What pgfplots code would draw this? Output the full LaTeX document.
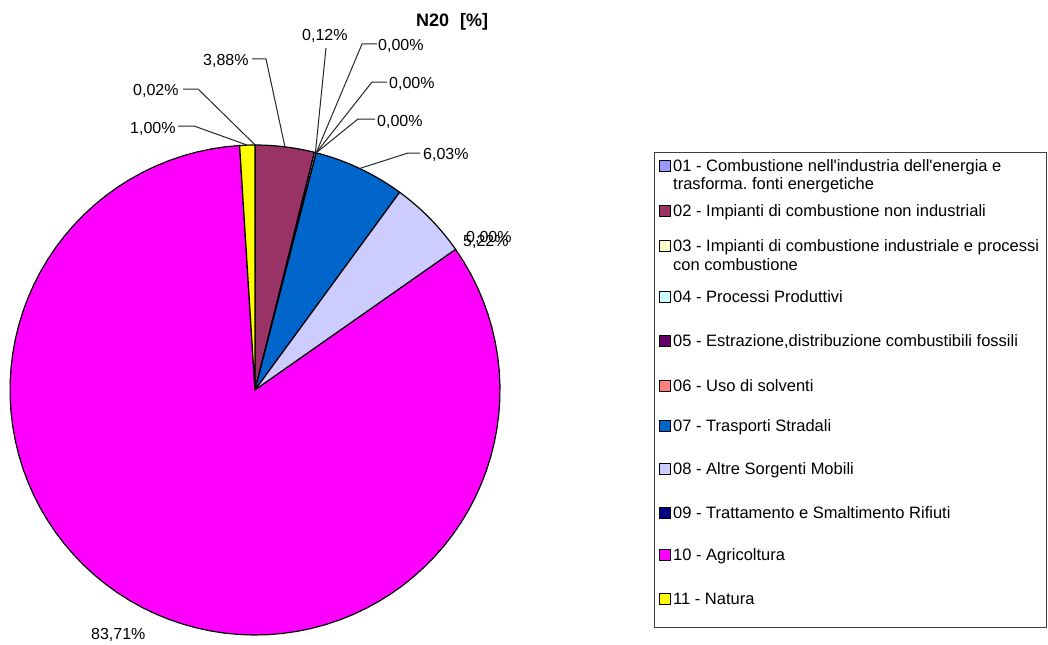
\documentclass[border=0pt]{standalone}
\usepackage{fontspec}
\setmainfont{Liberation Sans}
\usepackage{pgfplots}
\pgfplotsset{compat=1.18}
\frenchspacing
\definecolor{c01}{HTML}{9999FF}
\definecolor{c02}{HTML}{993366}
\definecolor{c03}{HTML}{FFFFCC}
\definecolor{c04}{HTML}{CCFFFF}
\definecolor{c05}{HTML}{660066}
\definecolor{c06}{HTML}{FF8080}
\definecolor{c07}{HTML}{0066CC}
\definecolor{c08}{HTML}{CCCCFF}
\definecolor{c09}{HTML}{000080}
\definecolor{c10}{HTML}{FF00FF}
\definecolor{c11}{HTML}{FFFF00}
\newcommand{\lbl}{\fontsize{16bp}{19bp}\selectfont}
\newcommand{\leg}{\fontsize{16.5bp}{19bp}\selectfont}
% share of each sector (%), clockwise from 12 o'clock
\def\slices{0.02/c01,3.88/c02,0.12/c03,0.00/c04,0.00/c05,0.00/c06,6.03/c07,5.22/c08,0.00/c09,83.71/c10,1.00/c11}
\def\total{99.98}
\begin{document}
\begin{tikzpicture}
\begin{axis}[width=1048bp,height=644bp,scale only axis,
  xmin=0,xmax=1048,ymin=0,ymax=644,y dir=reverse,hide axis,clip=false]
\path (axis cs:0,0) rectangle (axis cs:1048,644);
\pgfmathsetmacro{\degper}{360/\total}
\gdef\cumA{0}
\foreach \v/\c in \slices {
  \pgfmathsetmacro{\cumB}{\cumA+\v}
  \pgfmathsetmacro{\angA}{\cumA*\degper}
  \pgfmathsetmacro{\angB}{\cumB*\degper}
  \ifdim \v pt>0pt
    \edef\temp{\noexpand\addplot[draw=black,line width=1.2bp,line join=round,fill=\c,domain=\angA:\angB,samples=90,variable=\noexpand\t] ({255+245*sin(\noexpand\t)},{390-245*cos(\noexpand\t)}) -- (axis cs:255,390) -- cycle;}
    \temp
  \fi
  \xdef\cumA{\cumB}
}
% leader lines
\tikzset{ld/.style={line width=1bp,black!85}}
\draw[ld] (axis cs:183,89) -- (axis cs:198,89) -- (axis cs:255.2,145);
\draw[ld] (axis cs:178,126) -- (axis cs:194,126) -- (axis cs:247.5,145.2);
\draw[ld] (axis cs:252,59) -- (axis cs:266,59) -- (axis cs:285,147);
\draw[ld] (axis cs:326,48) -- (axis cs:315.4,152.6);
\draw[ld] (axis cs:377,44) -- (axis cs:362,44) -- (axis cs:316.2,152.8);
\draw[ld] (axis cs:387,82) -- (axis cs:372,82) -- (axis cs:316.2,152.8);
\draw[ld] (axis cs:375,119) -- (axis cs:358,119) -- (axis cs:316.2,152.8);
\draw[ld] (axis cs:420,153) -- (axis cs:408,153) -- (axis cs:359.7,168.5);
% labels
\tikzset{lb/.style={anchor=base west,inner sep=0pt,font=\lbl}}
\node[lb] at (axis cs:133,95) {0,02\%};
\node[lb] at (axis cs:130,133) {1,00\%};
\node[lb] at (axis cs:203,66) {3,88\%};
\node[lb] at (axis cs:302,41) {0,12\%};
\node[lb] at (axis cs:378,51) {0,00\%};
\node[lb] at (axis cs:389,89) {0,00\%};
\node[lb] at (axis cs:377,126) {0,00\%};
\node[lb] at (axis cs:423,159) {6,03\%};
\node[lb] at (axis cs:466,242) {0,00\%};
\node[lb] at (axis cs:463,246) {5,22\%};
\node[lb] at (axis cs:91,639) {83,71\%};
\node[anchor=base west,inner sep=0pt,font=\fontsize{18bp}{21bp}\selectfont\bfseries] at (axis cs:416,27) {N20\hspace{11bp}[\%]};
% legend
\draw[black!75,line width=1bp] (axis cs:654,152) rectangle (axis cs:1046,627);
\tikzset{lg/.style={anchor=base west,inner sep=0pt,font=\leg}}
\foreach \c/\b/\t in {c01/171/{01 - Combustione nell\textquotesingle industria dell\textquotesingle energia e},
  c02/216/{02 - Impianti di combustione non industriali},
  c03/251/{03 - Impianti di combustione industriale e processi},
  c04/302/{04 - Processi Produttivi},
  c05/346/{05 - Estrazione,distribuzione combustibili fossili},
  c06/391/{06 - Uso di solventi},
  c07/431/{07 - Trasporti Stradali},
  c08/474/{08 - Altre Sorgenti Mobili},
  c09/518/{09 - Trattamento e Smaltimento Rifiuti},
  c10/560/{10 - Agricoltura},
  c11/604/{11 - Natura}} {
  \edef\temp{\noexpand\draw[fill=\c,line width=1bp] (axis cs:659,\b-11) rectangle (axis cs:670,\b);}
  \temp
  \edef\temp{\noexpand\node[lg] at (axis cs:673,\b) {\unexpanded\expandafter{\t}};}
  \temp
}
\node[lg] at (axis cs:673,189) {trasforma. fonti energetiche};
\node[lg] at (axis cs:673,270) {con combustione};
\end{axis}
\end{tikzpicture}
\end{document}
